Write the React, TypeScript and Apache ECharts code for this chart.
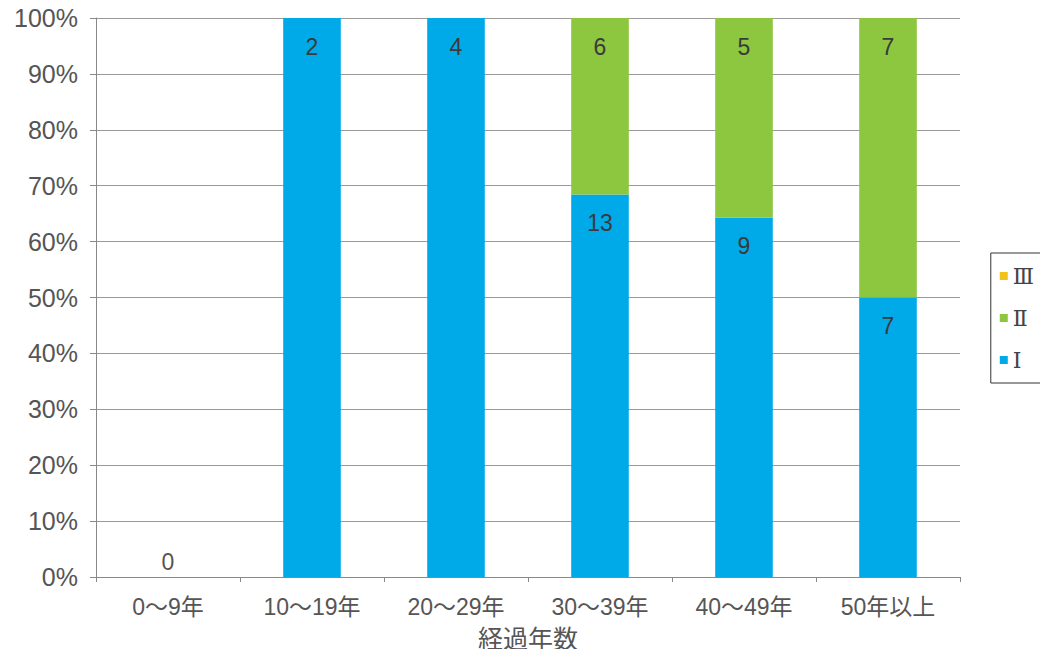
import React, { useEffect, useRef } from "react";
import * as echarts from "echarts";

const categories = ["0～9年", "10～19年", "20～29年", "30～39年", "40～49年", "50年以上"];
const countI = [0, 2, 4, 13, 9, 7];
const countII = [0, 0, 0, 6, 5, 7];
const countIII = [0, 0, 0, 0, 0, 0];
const yTicks = [0, 10, 20, 30, 40, 50, 60, 70, 80, 90, 100];

const FONT = "'Liberation Sans', 'Noto Sans CJK JP', sans-serif";

function pct(arr: number[], i: number) {
  const total = countI[i] + countII[i] + countIII[i];
  return total === 0 ? 0 : (arr[i] / total) * 100;
}

export default function App() {
  const ref = useRef<HTMLDivElement>(null);
  useEffect(() => {
    if (!ref.current) return;
    const chart = echarts.init(ref.current, undefined, { renderer: "svg" });
    const labelStyle = {
      show: true,
      position: "insideTop" as const,
      distance: 17,
      fontSize: 23,
      color: "#3a3a3a",
      fontFamily: FONT,
    };
    const mk = (arr: number[], allowZeroLabel: boolean) =>
      arr.map((c, i) => {
        const total = countI[i] + countII[i] + countIII[i];
        const item: any = { value: pct(arr, i), count: c };
        if (c === 0) {
          if (allowZeroLabel && total === 0) {
            item.label = { show: true, position: "top", distance: 4, formatter: String(c), color: "#555" };
          } else {
            item.label = { show: false };
          }
        }
        return item;
      });
    chart.setOption({
      animation: false,
      textStyle: { fontFamily: FONT },
      grid: { left: 96, right: 88, top: 18, bottom: 80, containLabel: false },
      legend: {
        orient: "vertical",
        right: 2,
        top: 253,
        data: ["Ⅲ", "Ⅱ", "Ⅰ"],
        itemWidth: 8,
        itemHeight: 8,
        itemGap: 20,
        icon: "rect",
        borderColor: "#333",
        borderWidth: 1,
        padding: [12, 12, 12, 9],
        textStyle: { fontSize: 22, color: "#444", fontFamily: "'DejaVu Serif', serif" },
      },
      xAxis: {
        type: "category",
        data: categories,
        name: "経過年数",
        nameLocation: "middle",
        nameGap: 49,
        nameTextStyle: { fontSize: 25, color: "#555", fontFamily: FONT },
        axisLine: { lineStyle: { color: "#888" } },
        axisTick: { show: true, length: 5, lineStyle: { color: "#888" } },
        axisLabel: { fontSize: 23, color: "#555", margin: 18, fontFamily: FONT },
      },
      yAxis: {
        type: "value",
        min: 0,
        max: 100,
        interval: 10,
        axisLine: { show: true, lineStyle: { color: "#888" } },
        axisTick: { show: true, length: 6, lineStyle: { color: "#888" } },
        axisLabel: {
          fontSize: 25,
          color: "#555",
          margin: 18,
          fontFamily: FONT,
          formatter: (v: number) => (yTicks.includes(v) ? v + "%" : ""),
        },
        splitLine: { lineStyle: { color: "#999", width: 1 } },
      },
      series: [
        {
          name: "Ⅰ",
          type: "bar",
          stack: "s",
          barWidth: "40%",
          itemStyle: { color: "#00a9e8" },
          label: { ...labelStyle, formatter: (p: any) => String(p.data.count) },
          data: mk(countI, true),
        },
        {
          name: "Ⅱ",
          type: "bar",
          stack: "s",
          itemStyle: { color: "#8dc63f" },
          label: { ...labelStyle, formatter: (p: any) => String(p.data.count) },
          data: mk(countII, false),
        },
        {
          name: "Ⅲ",
          type: "bar",
          stack: "s",
          itemStyle: { color: "#f2c218" },
          label: { ...labelStyle, formatter: (p: any) => String(p.data.count) },
          data: mk(countIII, false),
        },
      ],
    });
    return () => chart.dispose();
  }, []);
  return <div ref={ref} style={{ width: 1048, height: 657, margin: -8 }} />;
}
